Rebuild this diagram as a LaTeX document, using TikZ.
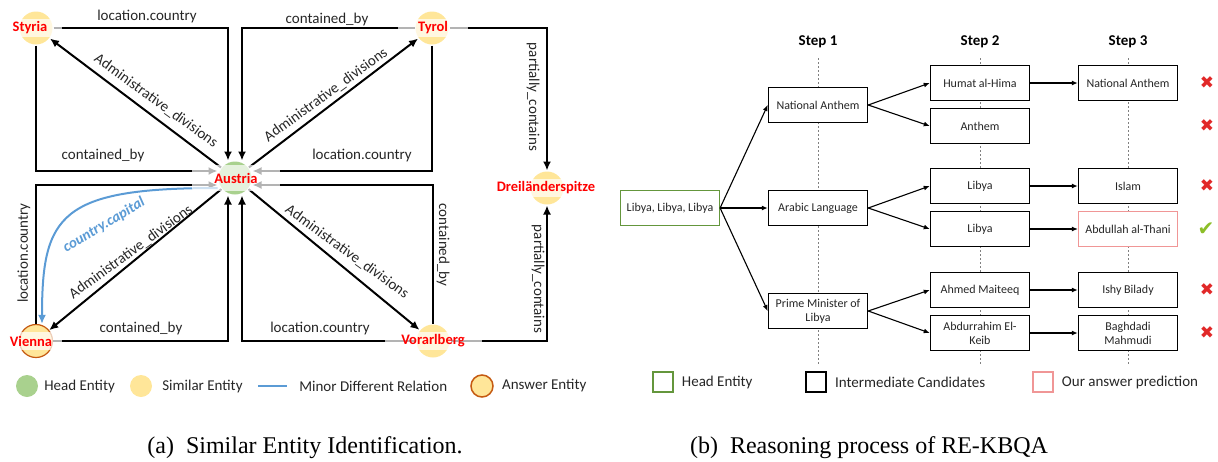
\documentclass[tikz,border=0pt]{standalone}
\usepackage{tikz}
\usepackage{xcolor}
\usepackage{fontspec}
\setmainfont{Carlito}
\newfontfamily\capfnt{Liberation Serif}
\newfontfamily\markfnt{DejaVu Sans}
\usetikzlibrary{arrows.meta,positioning}

\definecolor{headgreen}{RGB}{169,209,142}
\definecolor{simyellow}{RGB}{255,230,153}
\definecolor{ansorange}{RGB}{197,90,17}
\definecolor{relblue}{RGB}{91,155,213}
\definecolor{boxgreen}{RGB}{100,150,60}
\definecolor{boxpink}{RGB}{240,150,150}
\definecolor{crossred}{RGB}{225,40,40}
\definecolor{tickgreen}{RGB}{140,190,40}

\begin{document}
\begin{tikzpicture}[x=1pt, y=-1pt, line width=2pt, >={Latex[length=9pt,width=8pt]},
    ent/.style={circle, minimum size=33pt, inner sep=0pt, fill=simyellow},
    entname/.style={fill=white, fill opacity=0.7, text opacity=1, text=red, inner ysep=0pt, minimum height=18pt,
        font=\fontsize{14.5}{16}\selectfont\bfseries},
    rel/.style={text=black!85, font=\fontsize{15}{17}\selectfont},
    cand/.style={draw, line width=1.5pt, minimum width=99pt, minimum height=35pt, fill=white, align=center,
        text=black!85, inner sep=1pt, font=\fontsize{12}{14}\selectfont},
    link/.style={line width=1.1pt, -{Latex[length=6pt,width=5pt]}},
    legtext/.style={text=black!85, font=\fontsize{15}{17}\selectfont}]
    \useasboundingbox (0,0) rectangle (1218,461);

    % Entidades (izquierda)
    \node[ent] (styria) at (36,28) {};
    \node[ent] (tyrol) at (432,28) {};
    \node[ent] (dreil) at (547,188) {};
    \node[ent, fill=headgreen] (austria) at (235,178) {};
    \node[ent, draw=ansorange, line width=1.2pt] (vienna) at (36,341) {};
    \node[ent] (vorarl) at (433,341) {};

    % Relaciones
    \draw[->] (styria.east) -| ([xshift=-7pt]austria.north);
    \draw[->] (tyrol.west) -| ([xshift=7pt]austria.north);
    \draw[->] (styria.south) |- ([yshift=7pt]austria.west);
    \draw[->] (vienna.north) |- ([yshift=-7pt]austria.west);
    \draw[->] (tyrol.south) |- ([yshift=7pt]austria.east);
    \draw[->] (vorarl.north) |- ([yshift=-7pt]austria.east);
    \draw[->] (vienna.east) -| ([xshift=-7pt]austria.south);
    \draw[->] (vorarl.west) -| ([xshift=7pt]austria.south);
    \draw[->] (tyrol.east) -| (dreil.north);
    \draw[->] (vorarl.east) -| (dreil.south);
    \draw[->] (austria) -- (styria);
    \draw[->] (austria) -- (tyrol);
    \draw[->] (austria) -- (vienna);
    \draw[->] (austria) -- (vorarl);
    \draw[relblue, ->] ([yshift=-10pt]austria.west) .. controls (60,188) and (42,215) .. ([xshift=6pt]vienna.north);

    % Nombres
    \node[entname, minimum width=63pt] (styriaT) at (30,28) {Styria};
    \node[entname, minimum width=70pt] (tyrolT) at (433,28) {Tyrol};
    \node[entname, minimum width=88pt, minimum height=26pt] (austriaT) at (236,178) {Austria};
    \node[entname, minimum width=62pt] (viennaT) at (31,341) {Vienna};
    \node[entname, minimum width=97pt] (vorarlT) at (433,341) {Vorarlberg};
    \node[entname, inner xsep=6pt] (dreilT) at (546,188) {Dreiländerspitze};

    % Etiquetas
    \node[rel] (r1) at (147,16) {location.country};
    \node[rel] (r2) at (327,19) {contained\_by};
    \node[rel, rotate=-36] (r3) at (156,101) {Administrative\_divisions};
    \node[rel, rotate=36] (r4) at (326,95) {Administrative\_divisions};
    \node[rel] (r5) at (103,155) {contained\_by};
    \node[rel] (r6) at (362,155) {location.country};
    \node[rel, rotate=-90] (r7) at (533,97) {partially\_contains};
    \node[rel, rotate=90] (r8) at (24,253) {location.country};
    \node[rel, rotate=36] (r9) at (131,252) {Administrative\_divisions};
    \node[rel, text=relblue, font=\fontsize{15}{17}\selectfont\bfseries\itshape, rotate=31] (r10) at (104,225) {country.capital};
    \node[rel] (r11) at (141,328) {contained\_by};
    \node[rel, rotate=-36] (r12) at (347,252) {Administrative\_divisions};
    \node[rel] (r13) at (320,328) {location.country};
    \node[rel, rotate=-90] (r14) at (443,245) {contained\_by};
    \node[rel, rotate=-90] (r15) at (538,279) {partially\_contains};

    % Leyenda (izquierda)
    \node[circle, fill=headgreen, minimum size=22pt, inner sep=0pt] (lgHead) at (27,386) {};
    \node[legtext, right=1pt of lgHead] (lgHeadT) {Head Entity};
    \node[circle, fill=simyellow, minimum size=22pt, inner sep=0pt] (lgSim) at (141,386) {};
    \node[legtext, right=5pt of lgSim] (lgSimT) {Similar Entity};
    \coordinate (lgRelA) at (258,386);
    \coordinate (lgRelB) at (287,386);
    \draw[relblue] (lgRelA) -- (lgRelB);
    \node[legtext, right=8pt of lgRelB] (lgRelT) {Minor Different Relation};
    \node[circle, fill=simyellow, draw=ansorange, line width=1.5pt, minimum size=22pt, inner sep=0pt] (lgAns) at (482,386) {};
    \node[legtext, right=4pt of lgAns] (lgAnsT) {Answer Entity};

    % Pasos (derecha)
    \foreach \x/\s in {818/1,980/2,1128/3} {
        \node[font=\fontsize{15}{17}\selectfont\bfseries] (step\s) at (\x,42) {Step \s};
        \coordinate (stepEnd\s) at (\x,365);
        \draw[gray, line width=0.8pt, dash pattern=on 2pt off 2pt] ([yshift=-6pt]step\s.south) -- (stepEnd\s);
    }

    % Candidatos
    \node[cand, draw=boxgreen, line width=1.2pt] (head) at (670,208) {Libya, Libya, Libya};
    \node[cand] (na1) at (818,105) {National Anthem};
    \node[cand] (arab) at (818,208) {Arabic Language};
    \node[cand] (pm) at (818,311) {Prime Minister of\\Libya};
    \node[cand] (humat) at (980,83) {Humat al-Hima};
    \node[cand] (anthem) at (980,126) {Anthem};
    \node[cand] (libya1) at (980,186) {Libya};
    \node[cand] (libya2) at (980,229) {Libya};
    \node[cand] (ahmed) at (980,290) {Ahmed Maiteeq};
    \node[cand] (abdur) at (980,333) {Abdurrahim El-\\Keib};
    \node[cand] (na3) at (1128,83) {National Anthem};
    \node[cand] (islam) at (1128,186) {Islam};
    \node[cand, draw=boxpink, line width=1.2pt] (abdul) at (1128,229) {Abdullah al-Thani};
    \node[cand] (ishy) at (1128,290) {Ishy Bilady};
    \node[cand] (bagh) at (1128,333) {Baghdadi\\Mahmudi};

    % Conexiones
    \foreach \a/\b in {head/na1, head/arab, head/pm, na1/humat, na1/anthem, arab/libya1, arab/libya2,
        pm/ahmed, pm/abdur, humat/na3, libya1/islam, libya2/abdul, ahmed/ishy, abdur/bagh} {
        \draw[link] (\a.east) -- (\b.west);
    }

    % Resultados
    \foreach \y in {83,126,186,290,333} {
        \node[text=crossred, font=\markfnt\fontsize{17}{17}\selectfont] (cross\y) at (1207,\y) {✖};
    }
    \node[text=tickgreen, font=\markfnt\fontsize{20}{20}\selectfont] (tick) at (1206,229) {✔};

    % Leyenda (derecha)
    \node[draw=boxgreen, line width=1.2pt, minimum size=20pt, inner sep=0pt] (lgHeadBox) at (663,382) {};
    \node[legtext, right=4pt of lgHeadBox] (lgHeadBoxT) {Head Entity};
    \node[draw, line width=1.5pt, minimum size=20pt, inner sep=0pt] (lgCandBox) at (816,382) {};
    \node[legtext, right=4pt of lgCandBox] (lgCandBoxT) {Intermediate Candidates};
    \node[draw=boxpink, line width=1.2pt, minimum size=20pt, inner sep=0pt] (lgAnsBox) at (1043,382) {};
    \node[legtext, right=4pt of lgAnsBox] (lgAnsBoxT) {Our answer prediction};

    % Titulos
    \node[font=\capfnt\fontsize{24}{26}\selectfont] (capA) at (305,448) {(a)\ \ Similar Entity Identification.};
    \node[font=\capfnt\fontsize{24}{26}\selectfont] (capB) at (869,448) {(b)\ \ Reasoning process of RE-KBQA};
\end{tikzpicture}
\end{document}
